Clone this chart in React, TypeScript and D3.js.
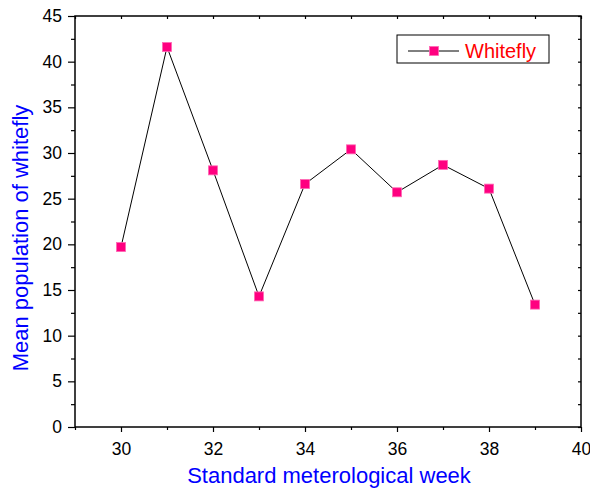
import React, { useEffect, useRef } from 'react';
import * as d3 from 'd3';

// Data
const weeks = [30, 31, 32, 33, 34, 35, 36, 37, 38, 39];
const whitefly = [19.7, 41.6, 28.1, 14.3, 26.6, 30.4, 25.7, 28.7, 26.1, 13.4];
const xMajorTicks = [30, 32, 34, 36, 38, 40];
const xMinorTicks = [29, 31, 33, 35, 37, 39];
const yMajorTicks = [0, 5, 10, 15, 20, 25, 30, 35, 40, 45];
const yMinorTicks = [2.5, 7.5, 12.5, 17.5, 22.5, 27.5, 32.5, 37.5, 42.5];

const FONT = 'Arial, "Liberation Sans", sans-serif';
const PINK = '#ff0080';

const App = () => {
  const svgRef = useRef<SVGSVGElement | null>(null);

  useEffect(() => {
    if (!svgRef.current) return;
    const svg = d3.select(svgRef.current);
    svg.selectAll('*').remove();

    const width = 590;
    const height = 489;
    const margin = { top: 16, right: 9, bottom: 62, left: 75 };
    const innerW = width - margin.left - margin.right;
    const innerH = height - margin.top - margin.bottom;

    const g = svg.append('g').attr('transform', `translate(${margin.left},${margin.top})`);

    const x = d3.scaleLinear().domain([29, 40]).range([0, innerW]);
    const y = d3.scaleLinear().domain([0, 45]).range([innerH, 0]);

    const styleAxis = (sel: any) => {
      sel.select('.domain').remove();
      sel.selectAll('line').attr('stroke', '#000').attr('stroke-width', 1.2);
      sel.selectAll('text').attr('font-family', FONT).attr('font-size', 17.5).attr('fill', '#000');
    };

    // bottom axis
    g.append('g')
      .attr('transform', `translate(0,${innerH})`)
      .call(d3.axisBottom(x).tickValues(xMinorTicks).tickSize(3).tickFormat(() => ''))
      .call(styleAxis);
    g.append('g')
      .attr('transform', `translate(0,${innerH})`)
      .call(d3.axisBottom(x).tickValues(xMajorTicks).tickSize(5).tickPadding(11).tickFormat(d3.format('d')))
      .call(styleAxis);

    // left axis
    g.append('g')
      .call(d3.axisLeft(y).tickValues(yMinorTicks).tickSize(4).tickFormat(() => ''))
      .call(styleAxis);
    g.append('g')
      .call(d3.axisLeft(y).tickValues(yMajorTicks).tickSize(7).tickPadding(6).tickFormat(d3.format('d')))
      .call(styleAxis);

    // top axis (inward ticks)
    g.append('g')
      .call(d3.axisTop(x).tickValues([...xMinorTicks, ...xMajorTicks]).tickSize(-3).tickFormat(() => ''))
      .call(styleAxis);

    // right axis (inward ticks)
    g.append('g')
      .attr('transform', `translate(${innerW},0)`)
      .call(d3.axisRight(y).tickValues([...yMinorTicks, ...yMajorTicks]).tickSize(-3).tickFormat(() => ''))
      .call(styleAxis);

    // frame
    g.append('rect')
      .attr('width', innerW)
      .attr('height', innerH)
      .attr('fill', 'none')
      .attr('stroke', '#000')
      .attr('stroke-width', 1.5);

    // line
    const pts = weeks.map((w, i) => [w, whitefly[i]] as [number, number]);
    g.append('path')
      .datum(pts)
      .attr('fill', 'none')
      .attr('stroke', '#000')
      .attr('stroke-width', 1)
      .attr('d', d3.line<[number, number]>().x(d => x(d[0])).y(d => y(d[1])));

    // markers
    const ms = 9;
    g.selectAll('.marker')
      .data(pts)
      .join('rect')
      .attr('class', 'marker')
      .attr('x', d => x(d[0]) - ms / 2)
      .attr('y', d => y(d[1]) - ms / 2)
      .attr('width', ms)
      .attr('height', ms)
      .attr('fill', PINK)
      .attr('stroke', '#ff66b3')
      .attr('stroke-width', 0.8);

    // legend
    const lg = svg.append('g').attr('transform', 'translate(397,35)');
    lg.append('rect')
      .attr('width', 152)
      .attr('height', 28)
      .attr('fill', '#fff')
      .attr('stroke', '#000')
      .attr('stroke-width', 1);
    lg.append('line')
      .attr('x1', 11).attr('x2', 62)
      .attr('y1', 16).attr('y2', 16)
      .attr('stroke', '#000').attr('stroke-width', 1);
    lg.append('rect')
      .attr('x', 37 - ms / 2).attr('y', 16 - ms / 2)
      .attr('width', ms).attr('height', ms)
      .attr('fill', PINK)
      .attr('stroke', '#ff66b3')
      .attr('stroke-width', 0.8);
    lg.append('text')
      .attr('x', 68).attr('y', 23)
      .attr('font-family', FONT)
      .attr('font-size', 20)
      .attr('fill', '#ff0000')
      .text('Whitefly');

    // axis titles
    svg.append('text')
      .attr('x', 329)
      .attr('y', 483)
      .attr('text-anchor', 'middle')
      .attr('font-family', FONT)
      .attr('font-size', 22)
      .attr('fill', '#0000ff')
      .text('Standard meterological week');

    svg.append('text')
      .attr('transform', `translate(28,238) rotate(-90)`)
      .attr('text-anchor', 'middle')
      .attr('font-family', FONT)
      .attr('font-size', 22)
      .attr('fill', '#0000ff')
      .text('Mean population of whitefly');
  }, []);

  return (
    <div style={{ position: 'absolute', left: 0, top: 0 }}>
      <svg ref={svgRef} width={590} height={489} style={{ display: 'block', background: '#fff' }} />
    </div>
  );
};

export default App;
